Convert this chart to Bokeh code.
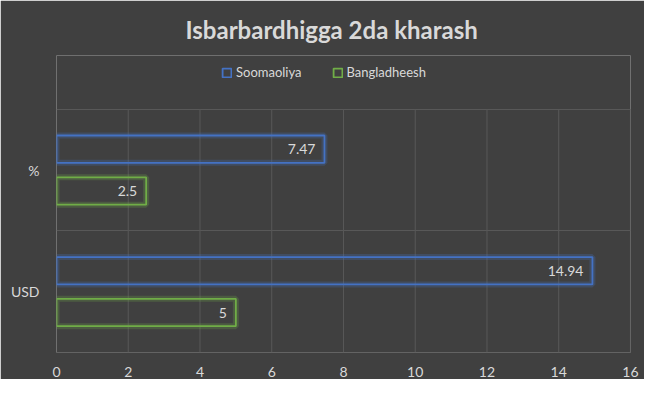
from bokeh.plotting import figure
from bokeh.models import ColumnDataSource, Range1d, Legend, LegendItem, FixedTicker
from bokeh.transform import dodge
from bokeh.embed import file_html
from bokeh.resources import INLINE
from bokeh.core.properties import value

categories = ["USD", "%"]
soomaaliya = [14.94, 7.47]
bangladheesh = [5, 2.5]
series_names = ["Soomaoliya", "Bangladheesh"]
x_ticks = [0, 2, 4, 6, 8, 10, 12, 14, 16]
title_text = "Isbarbardhigga 2da kharash"

BG = "#404040"
GRID = "#585858"
TXT = "#d9d9d9"
BLUE = "#4472c4"
GREEN = "#70ad47"
FONT = "Lato"

n = len(categories)
cat_y = [i + 0.5 for i in range(n)]          # category centres
bounds_y = [float(i) for i in range(n + 1)]  # category band edges

src = ColumnDataSource(dict(
    cy=cat_y,
    som=soomaaliya,
    ban=bangladheesh,
    som_lbl=[f"{v:g}" for v in soomaaliya],
    ban_lbl=[f"{v:g}" for v in bangladheesh],
))

vx = x_ticks[1:]
vgrid = ColumnDataSource(dict(x=vx, y0=[bounds_y[0]] * len(vx), y1=[bounds_y[-1]] * len(vx)))

# frame: x 56..630, y 55..353 ; category bands 122 px each
top_extra = (353 - 55) / 122.0
p = figure(width=644, height=379, output_backend="svg", toolbar_location=None,
           x_range=Range1d(0, 16.001), y_range=Range1d(-0.001, top_extra))
p.min_border_left = 56
p.min_border_right = 14
p.min_border_bottom = 26
p.min_border_top = 55
p.background_fill_color = BG
p.border_fill_color = BG
p.outline_line_color = None

p.title.text = title_text
p.title.align = "left"
p.title.offset = 129
p.title.standoff = 24
p.title.text_color = TXT
p.title.text_font = FONT
p.title.text_font_size = "24px"
p.title.text_font_style = "bold"

# vertical grid lines limited to the category bands
p.xgrid.visible = False
p.segment(x0="x", x1="x", y0="y0", y1="y1", source=vgrid, line_color=GRID, line_width=1)
# horizontal lines at category edges
p.ygrid.ticker = FixedTicker(ticks=bounds_y)
p.ygrid.grid_line_color = GRID

off = 0.172
h = 0.225
for col, c, d in (("som", BLUE, off), ("ban", GREEN, -off)):
    p.hbar(y=dodge("cy", d), right=col, left=0, height=h, source=src,
           fill_alpha=0, line_color=c, line_width=6, line_alpha=0.25)
r_som = p.hbar(y=dodge("cy", off), right="som", left=0, height=h, source=src,
               fill_alpha=0, line_color=BLUE, line_width=1.8)
r_ban = p.hbar(y=dodge("cy", -off), right="ban", left=0, height=h, source=src,
               fill_alpha=0, line_color=GREEN, line_width=1.8)

p.text(x="som", y=dodge("cy", off), text="som_lbl", source=src,
       x_offset=-9, text_align="right", text_baseline="middle", text_color=TXT,
       text_font=value(FONT), text_font_size="14px")
p.text(x="ban", y=dodge("cy", -off), text="ban_lbl", source=src,
       x_offset=-9, text_align="right", text_baseline="middle", text_color=TXT,
       text_font=value(FONT), text_font_size="14px")

p.xaxis.ticker = FixedTicker(ticks=x_ticks)
p.xaxis.axis_line_color = None
p.xaxis.major_tick_line_color = None
p.xaxis.minor_tick_line_color = None
p.xaxis.major_label_text_color = TXT
p.xaxis.major_label_text_font = FONT
p.xaxis.major_label_text_font_size = "14px"
p.xaxis.major_label_standoff = 8

p.yaxis.ticker = FixedTicker(ticks=cat_y)
p.yaxis.major_label_overrides = {y: c for y, c in zip(cat_y, categories)}
p.yaxis.axis_line_color = None
p.yaxis.major_tick_line_color = None
p.yaxis.minor_tick_line_color = None
p.yaxis.major_label_text_color = TXT
p.yaxis.major_label_text_font = FONT
p.yaxis.major_label_text_font_size = "14px"
p.yaxis.major_label_standoff = 11

legend = Legend(items=[LegendItem(label=series_names[0], renderers=[r_som]),
                       LegendItem(label=series_names[1], renderers=[r_ban])],
                orientation="horizontal", location=(165, 272),
                background_fill_alpha=0, border_line_color=None,
                label_text_color=TXT, label_text_font=FONT, label_text_font_size="13px",
                glyph_width=11, glyph_height=11, label_standoff=4, spacing=30,
                padding=0, margin=0)
p.add_layout(legend)

open("out.html", "w").write(file_html(p, INLINE))
